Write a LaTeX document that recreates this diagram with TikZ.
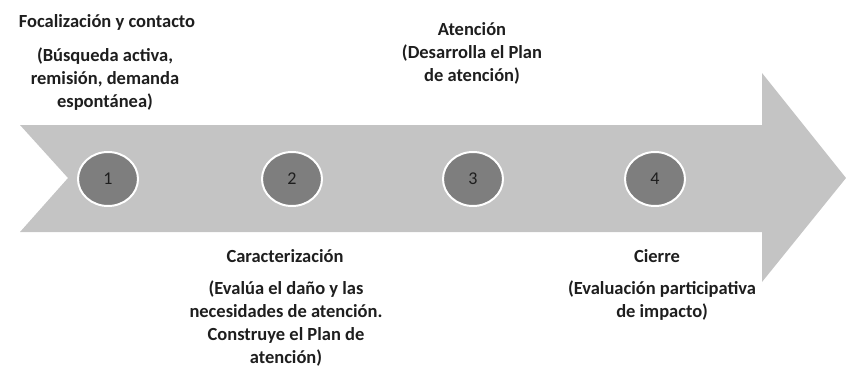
\documentclass[tikz,border=0pt]{standalone}
\usepackage{fontspec}
\setmainfont{Carlito}
\usepackage{tikz}
\usetikzlibrary{shapes.geometric, positioning}
\definecolor{arrowgray}{RGB}{196, 196, 196}
\definecolor{dotgray}{RGB}{126, 126, 126}
\definecolor{inkdark}{RGB}{30, 30, 30}

\tikzset{
  stepdot/.style={ellipse, draw=white, line width=2pt, fill=dotgray, minimum width=60pt, minimum height=54pt, inner sep=0pt, font=\fontsize{18}{20}\selectfont, text=inkdark},
  steptitle/.style={font=\bfseries\fontsize{18.5}{23}\selectfont, text=inkdark, align=center, inner sep=0pt},
  steptext/.style={font=\bfseries\fontsize{18.5}{23}\selectfont, text=inkdark, align=center, inner sep=0pt}
}

\begin{document}
\begin{tikzpicture}[x=1pt, y=-1pt]
  \useasboundingbox (0, 0) rectangle (846, 372);

  % Big arrow
  \fill[arrowgray] (20, 125) -- (762, 125) -- (762, 73) -- (846, 178) -- (762, 282)
    -- (762, 232) -- (20, 232) -- (68, 178) -- cycle;

  % Steps
  \node[stepdot] (dot1) at (108, 179) {1};
  \node[stepdot] (dot2) at (292, 179) {2};
  \node[stepdot] (dot3) at (473, 179) {3};
  \node[stepdot] (dot4) at (655, 179) {4};

  % 1
  \node[steptitle] (title1) at (107, 22) {Focalización y contacto};
  \node[steptext] (text1) at (105, 79) {(Búsqueda activa,\\remisión, demanda\\espontánea)};

  % 3
  \node[steptext] (text3) at (472, 53) {Atención\\(Desarrolla el Plan\\de atención)};

  % 2
  \node[steptitle] (title2) at (285, 256) {Caracterización};
  \node[steptext] (text2) at (286, 324) {(Evalúa el daño y las\\necesidades de atención.\\Construye el Plan de\\atención)};

  % 4
  \node[steptitle] (title4) at (657, 256) {Cierre};
  \node[steptext] (text4) at (662, 301) {(Evaluación participativa\\de impacto)};
\end{tikzpicture}
\end{document}
